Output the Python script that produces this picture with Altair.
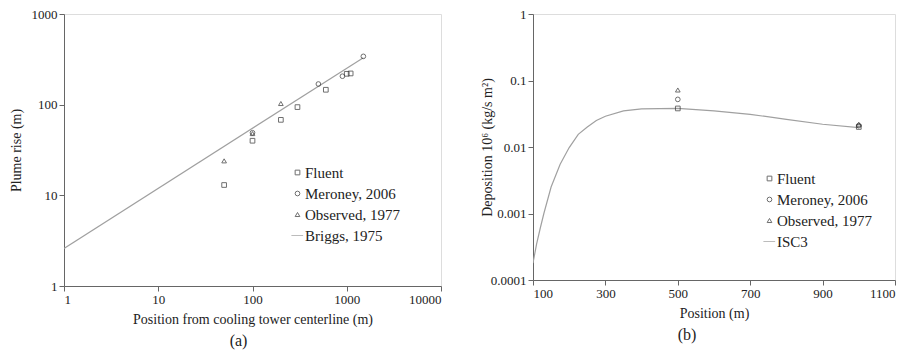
import altair as alt
import pandas as pd

FONT = "Liberation Serif"
INK = "#333333"
LINE = "#a0a0a0"

# ---- Panel (a): plume rise ----
fluent_a_x = [50, 100, 200, 300, 600, 1000, 1100]
fluent_a_y = [13, 40, 68, 94, 146, 219, 221]
meroney_a_x = [100, 500, 900, 1500]
meroney_a_y = [49, 169, 206, 341]
observed_a_x = [50, 100, 200]
observed_a_y = [24, 48, 103]
briggs_x = [1, 1500]
briggs_y = [2.6, 330]

# ---- Panel (b): deposition ----
fluent_b_x = [500, 1000]
fluent_b_y = [0.038, 0.020]
meroney_b_x = [500, 1000]
meroney_b_y = [0.052, 0.021]
observed_b_x = [500, 1000]
observed_b_y = [0.072, 0.022]
isc3_x = [100, 110, 120, 130, 150, 175, 200, 225, 250, 275, 300, 350, 400, 500,
          600, 700, 800, 900, 1000]
isc3_y = [0.00018, 0.00035, 0.0006, 0.001, 0.0025, 0.0055, 0.0098, 0.0155, 0.020,
          0.025, 0.029, 0.035, 0.0375, 0.038, 0.035, 0.031, 0.026, 0.022, 0.0195]


def pts(names_xy):
    rows = []
    for name, xs, ys in names_xy:
        for x, y in zip(xs, ys):
            rows.append({"series": name, "x": x, "y": y})
    return pd.DataFrame(rows)


def panel(points_df, line_df, line_name, xscale, yscale, xaxis, yaxis, w, h,
          caption, caption_dx, legend_x, legend_y):
    names = ["Fluent", "Meroney, 2006", "Observed, 1977", line_name]
    shape_scale = alt.Scale(domain=names,
                            range=["square", "circle", "triangle-up", "M-2.6,0H2.4"])
    color_scale = alt.Scale(domain=names, range=[INK, INK, INK, LINE])
    legend = alt.Legend(orient="none", legendX=legend_x, legendY=legend_y,
                        title=None, labelFont=FONT, labelFontSize=15,
                        labelColor="#222", symbolSize=22, symbolStrokeWidth=1,
                        rowPadding=5, labelOffset=0, symbolType="square")
    line = alt.Chart(line_df).mark_line(color=LINE, strokeWidth=1.2, clip=True).encode(
        x=alt.X("x:Q", scale=xscale, axis=xaxis),
        y=alt.Y("y:Q", scale=yscale, axis=yaxis),
    )
    dots = alt.Chart(points_df).mark_point(size=22, filled=False, strokeWidth=1).encode(
        x=alt.X("x:Q", scale=xscale, axis=xaxis),
        y=alt.Y("y:Q", scale=yscale, axis=yaxis),
        shape=alt.Shape("series:N", scale=shape_scale, legend=legend),
        color=alt.Color("series:N", scale=color_scale, legend=legend),
    )
    return alt.layer(line, dots).properties(
        width=w, height=h,
        title=alt.TitleParams(caption, orient="bottom", font=FONT, fontSize=16,
                              fontWeight="normal", color="#222", offset=7,
                              dx=caption_dx),
    )


def axis(title, values, fmt_expr, title_pad, **kw):
    return alt.Axis(title=title, values=values, labelExpr=fmt_expr, grid=False,
                    domainColor="#666", tickColor="#666", tickSize=5,
                    labelFont=FONT, labelFontSize=13, labelColor="#222",
                    titleFont=FONT, titleFontSize=14, titleFontWeight="normal",
                    titleColor="#222", titlePadding=title_pad, labelPadding=2, **kw)


pa = pts([("Fluent", fluent_a_x, fluent_a_y),
          ("Meroney, 2006", meroney_a_x, meroney_a_y),
          ("Observed, 1977", observed_a_x, observed_a_y)])
la = pd.DataFrame({"x": briggs_x, "y": briggs_y, "series": "Briggs, 1975"})

pb = pts([("Fluent", fluent_b_x, fluent_b_y),
          ("Meroney, 2006", meroney_b_x, meroney_b_y),
          ("Observed, 1977", observed_b_x, observed_b_y)])
lb = pd.DataFrame({"x": isc3_x, "y": isc3_y, "series": "ISC3"})

chart_a = panel(
    pa, la, "Briggs, 1975",
    alt.Scale(type="log", domain=[1, 10000], nice=False),
    alt.Scale(type="log", domain=[1, 1000], nice=False),
    axis("Position from cooling tower centerline (m)", [1, 10, 100, 1000, 10000],
         "format(datum.value, '~g')", 6),
    axis("Plume rise (m)", [1, 10, 100, 1000], "format(datum.value, '~g')", 8),
    377, 272, "(a)", -14, 226, 151,
)

chart_b = panel(
    pb, lb, "ISC3",
    alt.Scale(type="linear", domain=[100, 1100], nice=False, zero=False),
    alt.Scale(type="log", domain=[0.0001, 1], nice=False),
    axis("Position (m)", [100, 300, 500, 700, 900, 1100],
         "format(datum.value, 'd')", 6),
    axis("Deposition 10⁶ (kg/s m²)", [0.0001, 0.001, 0.01, 0.1, 1],
         "format(datum.value, '~g')", 8, titleX=-39, titleY=133),
    362, 266, "(b)", -27, 229, 157,
)

chart = alt.hconcat(chart_a, chart_b, spacing=37).resolve_scale(
    shape="independent", color="independent", x="independent", y="independent"
).resolve_legend(shape="independent", color="independent").configure_view(
    stroke="#666", strokeWidth=1
).configure(background="white", padding={"left": 0, "top": -1, "right": 5, "bottom": 5})

chart.save("out.html", embed_options={"renderer": "svg", "actions": False})
